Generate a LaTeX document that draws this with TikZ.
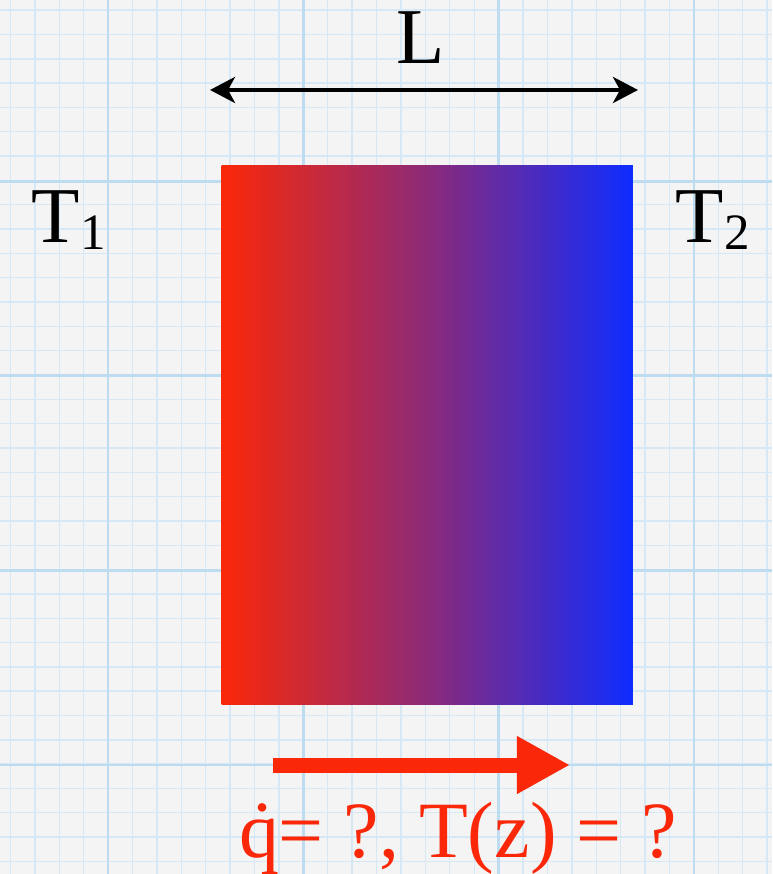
\documentclass[tikz,border=0pt]{standalone}
\usepackage{fontspec}
\setmainfont{Liberation Serif}
\usetikzlibrary{arrows.meta}
\definecolor{paper}{RGB}{244,244,244}
\definecolor{gridminor}{RGB}{214,232,245}
\definecolor{gridmajor}{RGB}{190,220,240}
\definecolor{hotred}{RGB}{250,40,8}
\definecolor{coldblue}{RGB}{14,44,255}
\definecolor{midpurple}{RGB}{140,42,120}
\tikzset{
  minorline/.style={gridminor, line width=0.014cm},
  majorline/.style={gridmajor, line width=0.028cm},
  biglabel/.style={font=\fontsize{22.5pt}{26pt}\selectfont, inner sep=0pt, anchor=base},
  redlabel/.style={font=\fontsize{22.7pt}{26pt}\selectfont, text=hotred, inner sep=0pt, anchor=base},
  dimarrow/.style={black, line width=0.04cm, {Stealth[length=0.25cm, width=0.26cm, inset=0.07cm]}-{Stealth[length=0.25cm, width=0.26cm, inset=0.07cm]}},
  heatarrow/.style={hotred, line width=0.15cm, -{Triangle[length=0.53cm, width=0.54cm]}},
}
\begin{document}
\begin{tikzpicture}[x=0.01cm, y=-0.01cm]
\useasboundingbox (0,0) rectangle (772,874);
\fill[paper] (0,0) rectangle (772,874);
% grid
\foreach \i in {0,...,31} {
  \draw[minorline] ({10.4+24.41*\i},0) -- ({10.4+24.41*\i},874);
}
\foreach \i in {0,...,35} {
  \draw[minorline] (0,{10.2+24.32*\i}) -- (772,{10.2+24.32*\i});
}
\foreach \x in {108,303.3,498.6,693.9} {
  \draw[majorline] (\x,0) -- (\x,874);
}
\foreach \y in {181.2,375.8,570.4,765} {
  \draw[majorline] (0,\y) -- (772,\y);
}
% slab
\node[draw=none, minimum width=4.11cm, minimum height=5.38cm, inner sep=0pt, anchor=north west,
      left color=hotred, right color=coldblue, middle color=midpurple] (slab) at (221,165) {};
% labels
\node[biglabel] (Ltxt) at (421,64) {L};
\node[biglabel, anchor=base west] (T1) at (31,243) {T\raisebox{-0.07cm}{\fontsize{14.5pt}{16pt}\selectfont 1}};
\node[biglabel, anchor=base west] (T2) at (675,243) {T\raisebox{-0.07cm}{\fontsize{14.5pt}{16pt}\selectfont 2}};
% dimension arrow
\coordinate (Lleft) at (210,90);
\coordinate (Lright) at (638,90);
\draw[dimarrow] (Lleft) -- (Lright);
% heat flow arrow
\coordinate (qstart) at (273,765);
\coordinate (qend) at (570,765);
\draw[heatarrow] (qstart) -- (qend);
\node[redlabel] (qtxt) at (458,857) {\.q= ?, T(z) = ?};
\end{tikzpicture}
\end{document}
